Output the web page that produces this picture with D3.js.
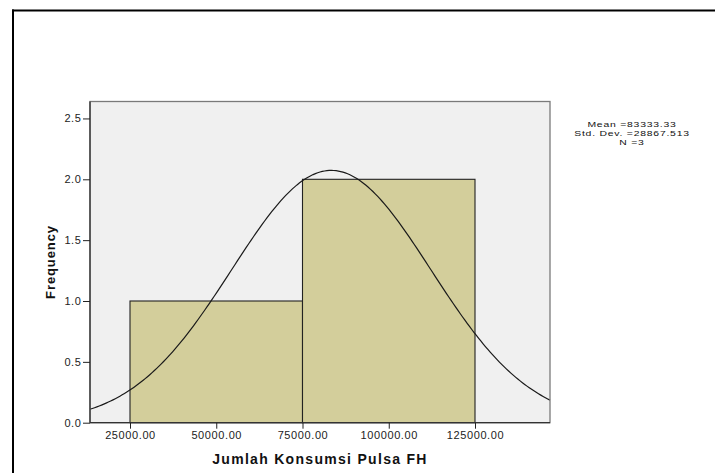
<!DOCTYPE html>
<html><head><meta charset="utf-8">
<script src="https://cdn.jsdelivr.net/npm/d3@7"></script>
<style>html,body{margin:0;padding:0;background:#fff;}svg{display:block;}</style>
</head><body>
<script>
const binStarts = [25000, 75000];
const binEnds = [75000, 125000];
const frequencies = [1, 2];
const xTicks = [25000, 50000, 75000, 100000, 125000];
const yTicks = [0, 0.5, 1.0, 1.5, 2.0, 2.5];
const statLines = ["Mean =83333.33", "Std. Dev. =28867.513", "N =3"];
const meanVal = 83333.33, sdVal = 28867.513, nVal = 3, binWidth = 50000;

(function () {
const W = 716, H = 473;
const FONT = "Arial, 'Liberation Sans', sans-serif";
const svg = d3.select("body").append("svg").attr("width", W).attr("height", H);

// outer frame
svg.append("line").attr("x1", 13).attr("x2", 13).attr("y1", 9.5).attr("y2", H).attr("stroke", "#000").attr("stroke-width", 2);
svg.append("line").attr("x1", 12).attr("x2", 715).attr("y1", 10.5).attr("y2", 10.5).attr("stroke", "#000").attr("stroke-width", 2);

const pL = 90, pR = 550, pT = 101.5, pB = 422.7;
const x = d3.scaleLinear().domain([25000, 125000]).range([130, 475]);
const xDom = [x.invert(pL), x.invert(pR)];
const y = d3.scaleLinear().domain([0, 1]).range([pB, 301]);

// plot background
svg.append("rect").attr("x", pL).attr("y", pT).attr("width", pR - pL).attr("height", pB - pT)
  .attr("fill", "#f0f0f0");

const bars = binStarts.map((s, i) => ({s, e: binEnds[i], f: frequencies[i]}));
svg.selectAll("rect.bar").data(bars).enter().append("rect").attr("class", "bar")
  .attr("x", d => x(d.s)).attr("y", d => y(d.f))
  .attr("width", d => x(d.e) - x(d.s)).attr("height", d => y(0) - y(d.f))
  .attr("fill", "#d3ce9b").attr("stroke", "#222").attr("stroke-width", 1.1);

// normal curve
const pts = d3.range(0, 201).map(i => {
  const xv = xDom[0] + (xDom[1] - xDom[0]) * i / 200;
  const dens = nVal * binWidth / (sdVal * Math.sqrt(2 * Math.PI)) * Math.exp(-0.5 * Math.pow((xv - meanVal) / sdVal, 2));
  return [x(xv), y(dens)];
});
svg.append("path").attr("d", d3.line()(pts)).attr("fill", "none").attr("stroke", "#1a1a1a").attr("stroke-width", 1.2);

// plot border
svg.append("rect").attr("x", pL).attr("y", pT).attr("width", pR - pL).attr("height", pB - pT)
  .attr("fill", "none").attr("stroke", "#7a7a7a").attr("stroke-width", 1.3);

// axes
const yAxis = d3.axisLeft(y).tickValues(yTicks).tickFormat(d3.format(".1f")).tickSize(7).tickPadding(1.5);
const gy = svg.append("g").attr("transform", `translate(${pL},0)`).call(yAxis);
gy.select(".domain").attr("stroke", "#333").attr("stroke-width", 1.3).attr("d", `M0,${pT}V${pB}`);
gy.selectAll(".tick line").attr("stroke", "#222");
gy.selectAll("text").attr("font-family", FONT).attr("font-size", 11).attr("letter-spacing", 0.6).attr("fill", "#222");

const xAxis = d3.axisBottom(x).tickValues(xTicks).tickFormat(d3.format(".2f")).tickSize(6).tickPadding(2.5);
const gx = svg.append("g").attr("transform", `translate(0,${pB})`).call(xAxis);
gx.select(".domain").attr("stroke", "#333").attr("stroke-width", 1.3).attr("d", `M${pL},0H${pR}`);
gx.selectAll(".tick line").attr("stroke", "#222");
gx.selectAll("text").attr("font-family", FONT).attr("font-size", 11).attr("letter-spacing", 0.6).attr("fill", "#222");

// axis titles
svg.append("text").attr("x", 320).attr("y", 463.5).attr("text-anchor", "middle")
  .attr("font-family", FONT).attr("font-weight", "bold").attr("font-size", 14).attr("letter-spacing", 1.3).attr("fill", "#111")
  .text("Jumlah Konsumsi Pulsa FH");
svg.append("text").attr("transform", "translate(54.5,262) rotate(-90)").attr("text-anchor", "middle")
  .attr("font-family", FONT).attr("font-weight", "bold").attr("font-size", 13).attr("letter-spacing", 0.9).attr("fill", "#111")
  .text("Frequency");

// stats
svg.selectAll("text.stat").data(statLines).enter().append("text").attr("class", "stat")
  .attr("transform", (d, i) => `translate(632,${127 + i * 9.2}) scale(1.3,1)`).attr("text-anchor", "middle")
  .attr("font-family", FONT).attr("font-size", 8).attr("letter-spacing", 0.6).attr("fill", "#111")
  .text(d => d);
})();
</script>
</body></html>
